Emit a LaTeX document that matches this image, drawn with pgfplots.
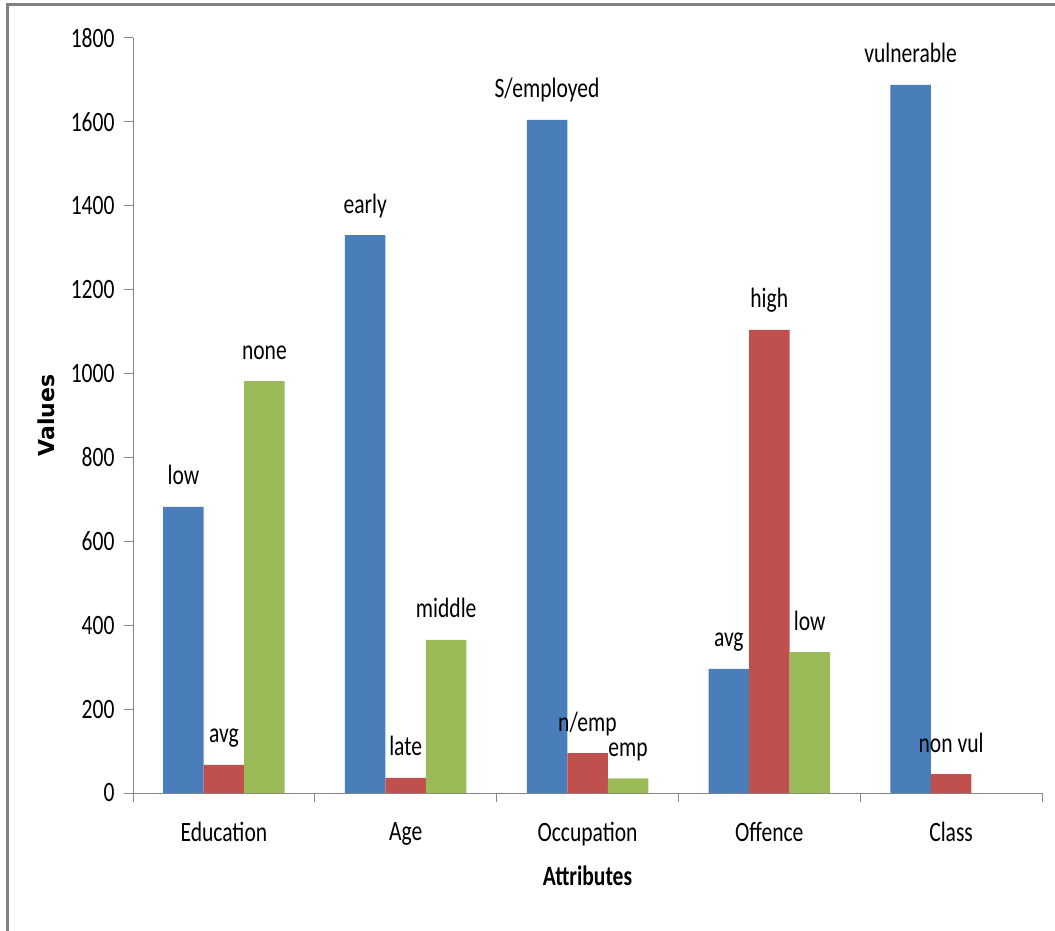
\documentclass[border=0pt]{standalone}
\usepackage{fontspec}
\setmainfont{Carlito}[FakeStretch=0.77]
\newfontfamily\valfont{DejaVu Sans}
\usepackage{pgfplots}
\pgfplotsset{compat=1.18}
\definecolor{cblue}{HTML}{4A7EBB}
\definecolor{cred}{HTML}{C0504D}
\definecolor{cgreen}{HTML}{9BBB59}
\definecolor{axgray}{RGB}{134,134,134}
\definecolor{framegray}{RGB}{128,128,128}
\begin{document}
\begin{tikzpicture}
\draw[line width=3pt, framegray] (7.5pt,-20pt) rectangle (1080pt,925.5pt);
\begin{axis}[
  at={(133pt,137pt)}, anchor=south west,
  scale only axis, width=909pt, height=755pt,
  xmin=-0.5, xmax=4.5, ymin=0, ymax=1800,
  enlargelimits=false,
  axis lines=left,
  axis line style={draw=axgray, line width=1pt, -},
  ytick={0,200,...,1800},
  xtick={-0.5,0.5,1.5,2.5,3.5,4.5},
  xticklabels={},
  extra x ticks={0,1,2,3,4},
  extra x tick labels={Education,Age,Occupation,Offence,Class},
  extra x tick style={grid=none, major tick length=0pt, xticklabel style={yshift=-26pt}},
  tick align=outside, major tick length=9pt,
  tick style={draw=axgray, line width=1pt},
  tick label style={font=\fontsize{28}{30}\selectfont},
  yticklabel shift=6pt,
  /pgf/number format/assume math mode=true,
  /pgf/number format/1000 sep={},
  xlabel={\bfseries Attributes},
  ylabel={\valfont\bfseries Values},
  xlabel style={at={(axis description cs:0.5,0)}, anchor=base, yshift=-92pt, font=\fontsize{28}{30}\selectfont},
  ylabel style={at={([xshift=-78pt]axis description cs:0,0.5)}, anchor=base, font=\fontsize{22}{24}\selectfont},
  bar width=40.5pt,
  nodes near coords,
  point meta=explicit symbolic,
  every node near coord/.append style={anchor=base, yshift=22pt, font=\fontsize{28}{30}\selectfont, text=black},
]
\addplot[ybar, bar shift=-40.5pt, fill=cblue, draw=none,
  every node near coord/.append style={xshift=-40.5pt}] coordinates {
  (0,682)[low] (1,1330)[early] (2,1605)[S/employed] (3,296)[avg] (4,1688)[vulnerable]};
\addplot[ybar, bar shift=0pt, fill=cred, draw=none] coordinates {
  (0,67)[avg] (1,36)[late] (2,95)[n/emp] (3,1104)[high] (4,45)[non vul]};
\addplot[ybar, bar shift=40.5pt, fill=cgreen, draw=none,
  every node near coord/.append style={xshift=40.5pt}] coordinates {
  (0,982)[none] (1,365)[middle] (2,35)[emp] (3,336)[low]};
\end{axis}
\pgfresetboundingbox
\useasboundingbox (0,0) rectangle (1055pt,930pt);
\end{tikzpicture}
\end{document}
